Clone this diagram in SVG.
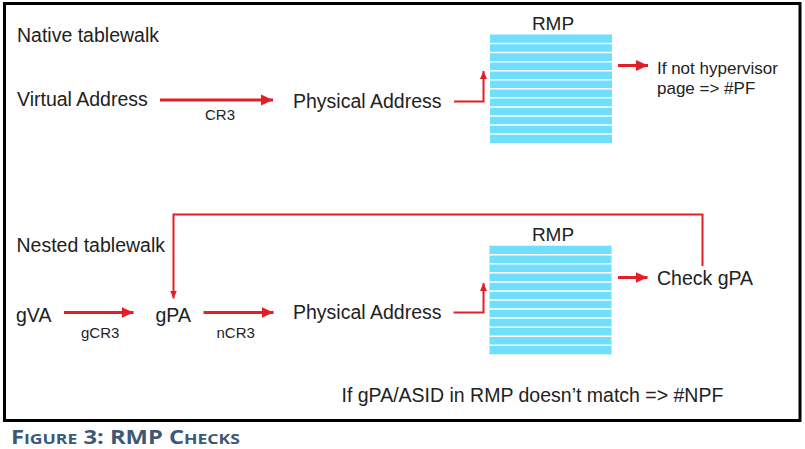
<svg xmlns="http://www.w3.org/2000/svg" width="805" height="449" viewBox="0 0 805 449">
<style>
  text { font-family: "Liberation Sans", Arial, Helvetica, sans-serif; fill: #222; }
  .t { font-size: 19.5px; }
  .s { font-size: 15px; }
  .m { font-size: 17px; }
  .rmp-title { font-size: 19px; text-anchor: middle; }
  .cap { font-family: "Open Sans", "Noto Sans", "Liberation Sans", sans-serif; font-weight: bold; fill: #3C5877; }
  .thick { stroke: #E31E26; stroke-width: 3; fill: none; }
  .thin { stroke: #E31E26; stroke-width: 2; fill: none; }
  .rmpbox { fill: #6FDFFD; }
  .sep { stroke: #ffffff; stroke-width: 1.5; }
</style>
<defs>
  <marker id="big" markerUnits="userSpaceOnUse" markerWidth="12" markerHeight="12" refX="12" refY="6" orient="auto">
    <path d="M0,0.5 L12,6 L0,11.5 z" fill="#E31E26"/>
  </marker>
  <marker id="small" markerUnits="userSpaceOnUse" markerWidth="8" markerHeight="8" refX="8" refY="4" orient="auto">
    <path d="M0,0.5 L8,4 L0,7.5 z" fill="#E31E26"/>
  </marker>
  <g id="stripes">
    <rect class="rmpbox" x="0" y="0" width="122" height="108.6"/>
    <g class="sep">
      <line x1="0" y1="9.05" x2="122" y2="9.05"/>
      <line x1="0" y1="18.1" x2="122" y2="18.1"/>
      <line x1="0" y1="27.15" x2="122" y2="27.15"/>
      <line x1="0" y1="36.2" x2="122" y2="36.2"/>
      <line x1="0" y1="45.25" x2="122" y2="45.25"/>
      <line x1="0" y1="54.3" x2="122" y2="54.3"/>
      <line x1="0" y1="63.35" x2="122" y2="63.35"/>
      <line x1="0" y1="72.4" x2="122" y2="72.4"/>
      <line x1="0" y1="81.45" x2="122" y2="81.45"/>
      <line x1="0" y1="90.5" x2="122" y2="90.5"/>
      <line x1="0" y1="99.55" x2="122" y2="99.55"/>
    </g>
  </g>
</defs>
<rect x="0" y="0" width="805" height="449" fill="#ffffff"/>
<rect x="4.5" y="3.5" width="795.5" height="417" fill="none" stroke="#000" stroke-width="3"/>

<g id="connectors">
  <line class="thick" x1="160" y1="100" x2="273" y2="100" marker-end="url(#big)"/>
  <polyline class="thin" points="454,101.5 483.5,101.5 483.5,71" marker-end="url(#small)"/>
  <line class="thick" x1="618" y1="65.5" x2="648" y2="65.5" marker-end="url(#big)"/>
  <polyline class="thin" points="702.5,266 702.5,214.5 173.5,214.5 173.5,298.5" marker-end="url(#small)"/>
  <line class="thick" x1="64" y1="312.5" x2="133.5" y2="312.5" marker-end="url(#big)"/>
  <line class="thick" x1="203.5" y1="312.5" x2="273.5" y2="312.5" marker-end="url(#big)"/>
  <polyline class="thin" points="453.5,312.5 483.5,312.5 483.5,283" marker-end="url(#small)"/>
  <line class="thick" x1="618" y1="277.5" x2="647.5" y2="277.5" marker-end="url(#big)"/>
  <text class="s" x="205" y="119.5">CR3</text>
  <text class="s" x="81" y="337.5">gCR3</text>
  <text class="s" x="216.5" y="337.5">nCR3</text>
</g>

<g id="native-label"><text class="t" x="17" y="42">Native tablewalk</text></g>
<g id="virtual-address"><text class="t" x="17" y="106">Virtual Address</text></g>
<g id="physical-address-1"><text class="t" x="293" y="108">Physical Address</text></g>
<g id="rmp-1">
  <text class="rmp-title" x="553" y="29.5">RMP</text>
  <use href="#stripes" x="490" y="34.5"/>
</g>
<g id="pf-result">
  <text class="m" x="657" y="74">If not hypervisor</text>
  <text class="m" x="657" y="93.5">page =&gt; #PF</text>
</g>

<g id="nested-label"><text class="t" x="16.5" y="252">Nested tablewalk</text></g>
<g id="gva"><text class="t" x="16" y="322">gVA</text></g>
<g id="gpa"><text class="t" x="155.5" y="322">gPA</text></g>
<g id="physical-address-2"><text class="t" x="293" y="319">Physical Address</text></g>
<g id="rmp-2">
  <text class="rmp-title" x="553" y="240.5">RMP</text>
  <use href="#stripes" x="489.5" y="245.7"/>
</g>
<g id="check-gpa"><text class="t" x="657" y="285">Check gPA</text></g>
<g id="npf-note"><text class="t" x="341.5" y="401.5">If gPA/ASID in RMP doesn’t match =&gt; #NPF</text></g>

<g id="caption">
  <text class="cap" x="11" y="443.7" textLength="229" lengthAdjust="spacingAndGlyphs"><tspan font-size="19.5">F</tspan><tspan font-size="14.5">IGURE</tspan><tspan font-size="19.5"> 3: RMP C</tspan><tspan font-size="14.5">HECKS</tspan></text>
</g>
</svg>
